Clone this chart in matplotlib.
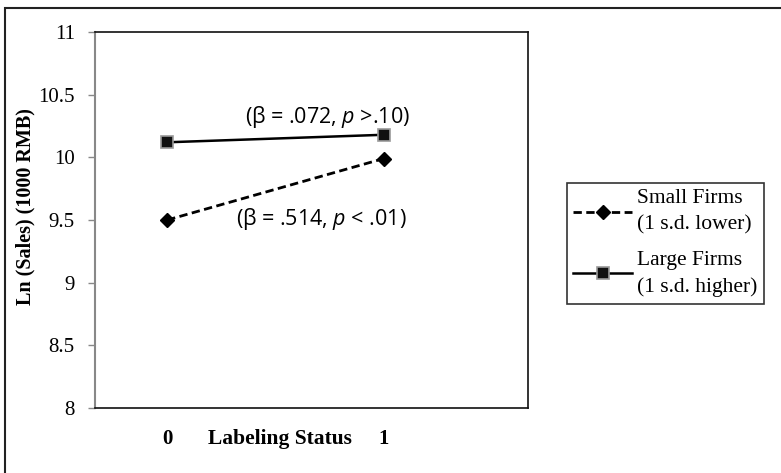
import matplotlib
matplotlib.use("Agg")
import matplotlib.pyplot as plt
from matplotlib.patches import Rectangle
from matplotlib.transforms import offset_copy

# Data
x_vals = [0, 1]
small_firms = [9.50, 9.99]
large_firms = [10.12, 10.18]
series_labels = ["Small Firms\n(1 s.d. lower)", "Large Firms\n(1 s.d. higher)"]
y_ticks = [8, 8.5, 9, 9.5, 10, 10.5, 11]
y_tick_labels = ["8", "8.5", "9", "9.5", "10", "10.5", "11"]
x_tick_labels = ["0", "1"]
annot_large = "(β = .072, $\\it{p}$ >.10$\\it{)}$"
annot_small = "(β = .514, $\\it{p}$ < .01$\\it{)}$"

serif = ["Liberation Serif", "DejaVu Serif"]
sans = ["Open Sans", "DejaVu Sans"]
plt.rcParams["font.family"] = serif
plt.rcParams["mathtext.fontset"] = "custom"
plt.rcParams["mathtext.rm"] = "Open Sans"
plt.rcParams["mathtext.it"] = "Open Sans:italic"

W, H = 781, 473
fig = plt.figure(figsize=(W / 100, H / 100), dpi=100)
ax = fig.add_axes([95 / W, (H - 408) / H, (528 - 95) / W, (408 - 32) / H])

ax.plot(x_vals, small_firms, color="black", lw=2.0, ls=(0, (3, 1.6)),
        marker="D", markersize=7, markerfacecolor="black", markeredgecolor="black",
        label=series_labels[0])
ax.plot(x_vals, large_firms, color="black", lw=1.8, ls="-",
        marker="s", markersize=8, markerfacecolor="#111111", markeredgecolor="#999999",
        markeredgewidth=1.2, label=series_labels[1])

ax.set_xlim(-1 / 3, 5 / 3)
ax.set_ylim(8, 11)
ax.set_yticks(y_ticks)
ax.set_yticklabels(y_tick_labels, fontfamily=serif, fontsize=15)
ax.set_xticks(x_vals)
ax.set_xticklabels(x_tick_labels, fontfamily=serif, fontsize=15, fontweight="bold")
ax.tick_params(axis="y", direction="out", length=5, width=1, color="#888888", pad=9.5)
ax.tick_params(axis="x", length=0, pad=15)

for s in ["top", "right", "bottom"]:
    ax.spines[s].set_color("#111111")
    ax.spines[s].set_linewidth(1.2)
ax.spines["left"].set_color("#888888")
ax.spines["left"].set_linewidth(1.5)

ax.text(0.52, 8, "Labeling Status", ha="center", va="center",
        transform=offset_copy(ax.transData, fig=fig, y=-31, units="dots"),
        fontfamily=serif, fontsize=15.5, fontweight="bold")

ax.set_ylabel("Ln (Sales) (1000 RMB)", fontfamily=serif, fontsize=14.5, fontweight="bold")
ax.yaxis.set_label_coords(-(95 - 35) / 433, (408 - 207) / 376)

ax.text(0.36, 10.32, annot_large, fontfamily=sans, fontsize=15.5, ha="left", va="center")
ax.text(0.32, 9.51, annot_small, fontfamily=sans, fontsize=15.5, ha="left", va="center")

leg = ax.legend(loc="upper left", bbox_to_anchor=(567 / W, 1 - 183 / H),
                bbox_transform=fig.transFigure, frameon=True, fancybox=False,
                edgecolor="black", prop={"family": serif, "size": 15.5},
                handlelength=2.7, handletextpad=0.25, borderpad=0.3, labelspacing=0.75,
                borderaxespad=0)
for t in leg.get_texts():
    t.set_linespacing(1.5)
leg.get_frame().set_linewidth(1.2)

fig.add_artist(Rectangle((5 / W, -0.05), 1.1, (H - 8) / H + 0.05, transform=fig.transFigure,
                         fill=False, edgecolor="#222222", lw=1.5))

fig.savefig("out.png", dpi=100)
